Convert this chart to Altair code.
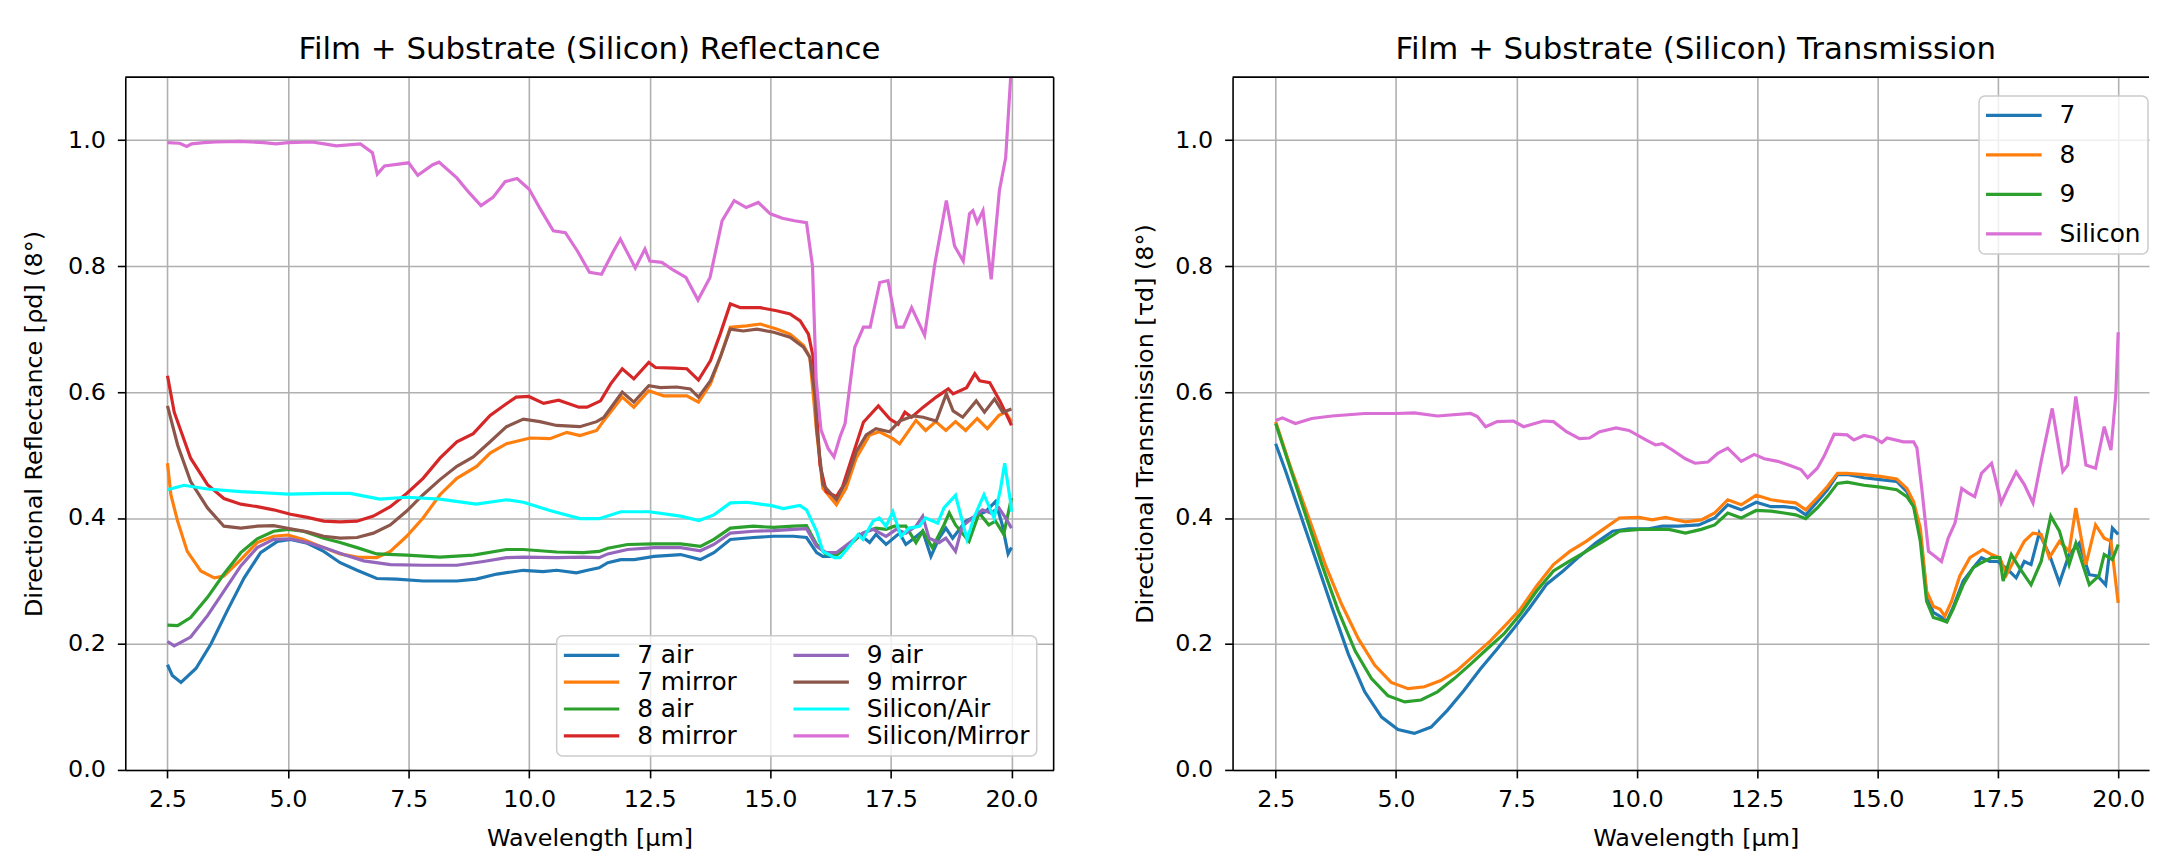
import altair as alt
import pandas as pd

FONT = "DejaVu Sans"

x_ticks = [2.5, 5.0, 7.5, 10.0, 12.5, 15.0, 17.5, 20.0]
y_ticks = [0.0, 0.2, 0.4, 0.6, 0.8, 1.0]

# ---------------- Reflectance series (wavelength um, reflectance) ----------------
r_7_air = [(2.5,0.167),(2.6,0.150),(2.78,0.139),(3.09,0.161),(3.4,0.2),(3.74,0.253),(4.09,0.305),(4.43,0.345),(4.78,0.363),(5.05,0.366),(5.4,0.36),(5.74,0.347),(6.08,0.329),(6.43,0.317),(6.84,0.304),(7.25,0.303),(7.8,0.30),(8.5,0.30),(8.9,0.303),(9.33,0.311),(9.88,0.317),(10.29,0.315),(10.57,0.317),(10.98,0.313),(11.21,0.317),(11.45,0.321),(11.63,0.329),(11.9,0.334),(12.18,0.334),(12.59,0.339),(13.14,0.342),(13.55,0.334),(13.83,0.345),(14.17,0.366),(14.65,0.369),(15.07,0.371),(15.48,0.371),(15.75,0.369),(15.96,0.345),(16.09,0.339),(16.33,0.339),(16.57,0.353),(16.85,0.374),(17.06,0.361),(17.19,0.374),(17.4,0.358),(17.68,0.376),(17.81,0.358),(17.98,0.368),(18.16,0.379),(18.33,0.339),(18.5,0.368),(18.64,0.384),(18.78,0.368),(19.05,0.395),(19.26,0.403),(19.46,0.41),(19.67,0.426),(19.81,0.389),(19.93,0.343),(20.0,0.353)]
r_7_mirror = [(2.5,0.487),(2.57,0.437),(2.71,0.395),(2.91,0.347),(3.19,0.316),(3.47,0.305),(3.67,0.308),(4.02,0.334),(4.36,0.361),(4.7,0.371),(5.0,0.373),(5.32,0.366),(5.74,0.353),(6.08,0.343),(6.43,0.338),(6.84,0.337),(7.12,0.347),(7.46,0.371),(7.8,0.40),(8.15,0.437),(8.5,0.463),(8.91,0.482),(9.19,0.503),(9.53,0.518),(10.02,0.527),(10.43,0.526),(10.78,0.536),(11.05,0.531),(11.4,0.539),(11.55,0.555),(11.93,0.592),(12.17,0.576),(12.48,0.602),(12.79,0.594),(13.27,0.594),(13.51,0.584),(13.76,0.613),(13.96,0.655),(14.17,0.703),(14.51,0.705),(14.79,0.708),(15.13,0.70),(15.41,0.692),(15.69,0.674),(15.82,0.655),(15.96,0.537),(16.09,0.447),(16.37,0.421),(16.57,0.447),(16.78,0.495),(17.06,0.532),(17.26,0.537),(17.54,0.526),(17.68,0.518),(17.81,0.532),(18.02,0.555),(18.22,0.539),(18.43,0.553),(18.64,0.539),(18.84,0.553),(19.05,0.539),(19.29,0.558),(19.5,0.542),(19.74,0.563),(19.88,0.568),(20.0,0.553)]
r_8_air = [(2.5,0.23),(2.71,0.229),(2.98,0.242),(3.33,0.274),(3.67,0.311),(4.02,0.345),(4.36,0.367),(4.7,0.379),(5.0,0.382),(5.32,0.379),(5.74,0.368),(6.08,0.361),(6.43,0.353),(6.84,0.343),(7.46,0.341),(8.15,0.338),(8.84,0.341),(9.53,0.35),(9.88,0.35),(10.57,0.346),(11.12,0.345),(11.45,0.347),(11.63,0.352),(12.04,0.358),(12.59,0.359),(13.14,0.359),(13.55,0.355),(13.83,0.366),(14.17,0.384),(14.65,0.387),(15.07,0.385),(15.48,0.387),(15.75,0.388),(15.96,0.358),(16.16,0.342),(16.37,0.341),(16.65,0.358),(16.92,0.376),(17.19,0.384),(17.4,0.382),(17.57,0.387),(17.81,0.387),(18.02,0.361),(18.16,0.379),(18.36,0.353),(18.6,0.389),(18.71,0.408),(18.84,0.389),(19.12,0.363),(19.33,0.408),(19.53,0.389),(19.67,0.395),(19.84,0.374),(20.0,0.432)]
r_8_mirror = [(2.5,0.626),(2.64,0.568),(2.98,0.495),(3.33,0.453),(3.67,0.431),(4.02,0.422),(4.36,0.418),(4.7,0.413),(5.05,0.406),(5.4,0.401),(5.74,0.395),(6.08,0.394),(6.43,0.395),(6.77,0.403),(7.12,0.418),(7.46,0.439),(7.8,0.463),(8.15,0.495),(8.5,0.521),(8.84,0.534),(9.19,0.563),(9.52,0.581),(9.73,0.592),(9.99,0.593),(10.3,0.582),(10.61,0.587),(11.03,0.576),(11.2,0.576),(11.48,0.586),(11.69,0.613),(11.93,0.637),(12.17,0.621),(12.48,0.647),(12.62,0.639),(13.0,0.638),(13.27,0.637),(13.51,0.619),(13.76,0.65),(13.96,0.692),(14.17,0.74),(14.38,0.734),(14.79,0.734),(15.13,0.729),(15.41,0.724),(15.62,0.713),(15.79,0.692),(15.89,0.655),(15.96,0.568),(16.03,0.484),(16.16,0.442),(16.37,0.434),(16.5,0.45),(16.71,0.50),(16.93,0.552),(17.24,0.578),(17.48,0.557),(17.65,0.549),(17.79,0.568),(17.93,0.56),(18.17,0.576),(18.44,0.592),(18.69,0.605),(18.79,0.597),(19.07,0.607),(19.24,0.629),(19.34,0.618),(19.55,0.615),(19.76,0.586),(19.96,0.554),(20.0,0.547)]
r_9_air = [(2.5,0.204),(2.64,0.197),(2.98,0.211),(3.33,0.245),(3.67,0.284),(4.02,0.324),(4.36,0.353),(4.7,0.366),(5.05,0.367),(5.4,0.361),(5.74,0.353),(6.15,0.342),(6.57,0.332),(7.12,0.326),(7.8,0.325),(8.5,0.325),(9.05,0.331),(9.53,0.337),(9.88,0.338),(10.57,0.337),(11.12,0.338),(11.45,0.337),(11.63,0.343),(12.04,0.35),(12.59,0.353),(13.14,0.353),(13.55,0.348),(13.83,0.358),(14.17,0.376),(14.65,0.379),(15.07,0.38),(15.48,0.382),(15.75,0.383),(15.96,0.355),(16.16,0.345),(16.37,0.345),(16.65,0.361),(16.92,0.376),(17.13,0.382),(17.4,0.371),(17.61,0.382),(17.81,0.376),(18.02,0.387),(18.16,0.403),(18.29,0.368),(18.5,0.361),(18.64,0.368),(18.84,0.347),(18.98,0.387),(19.19,0.40),(19.4,0.413),(19.57,0.408),(19.74,0.416),(19.88,0.40),(20.0,0.384)]
r_9_mirror = [(2.5,0.578),(2.71,0.516),(2.98,0.458),(3.33,0.416),(3.67,0.387),(4.02,0.384),(4.36,0.387),(4.7,0.388),(5.05,0.383),(5.4,0.378),(5.74,0.371),(6.08,0.368),(6.43,0.369),(6.77,0.376),(7.12,0.389),(7.46,0.411),(7.8,0.437),(8.15,0.461),(8.5,0.482),(8.84,0.497),(9.19,0.521),(9.53,0.545),(9.88,0.557),(10.22,0.553),(10.57,0.547),(11.05,0.545),(11.4,0.553),(11.55,0.56),(11.93,0.60),(12.17,0.584),(12.48,0.61),(12.72,0.607),(13.06,0.608),(13.34,0.605),(13.51,0.592),(13.76,0.618),(13.96,0.655),(14.17,0.70),(14.44,0.697),(14.72,0.70),(15.07,0.695),(15.41,0.687),(15.69,0.671),(15.82,0.655),(15.93,0.592),(15.96,0.542),(16.09,0.453),(16.37,0.429),(16.57,0.458),(16.78,0.505),(16.99,0.532),(17.19,0.542),(17.47,0.537),(17.68,0.554),(17.96,0.562),(18.17,0.56),(18.44,0.554),(18.65,0.597),(18.79,0.57),(18.99,0.56),(19.27,0.586),(19.44,0.568),(19.65,0.589),(19.82,0.568),(20.0,0.573)]
r_si_air = [(2.5,0.445),(2.84,0.452),(3.33,0.446),(4.02,0.442),(5.0,0.438),(5.74,0.439),(6.29,0.439),(6.9,0.43),(7.46,0.433),(8.15,0.43),(8.9,0.422),(9.53,0.429),(9.88,0.425),(10.43,0.412),(11.05,0.399),(11.45,0.399),(11.9,0.41),(12.49,0.41),(13.14,0.403),(13.52,0.396),(13.83,0.405),(14.17,0.424),(14.51,0.425),(15.0,0.42),(15.27,0.415),(15.61,0.42),(15.75,0.413),(15.96,0.379),(16.09,0.347),(16.33,0.337),(16.44,0.337),(16.64,0.355),(16.82,0.374),(16.92,0.366),(17.13,0.395),(17.26,0.40),(17.4,0.387),(17.54,0.41),(17.71,0.371),(17.88,0.384),(18.09,0.387),(18.22,0.40),(18.47,0.392),(18.6,0.416),(18.84,0.436),(19.08,0.366),(19.22,0.40),(19.43,0.437),(19.64,0.40),(19.77,0.445),(19.86,0.487),(19.98,0.426),(20.0,0.41)]
r_si_mirror = [(2.5,0.996),(2.75,0.995),(2.9,0.99),(3.0,0.994),(3.25,0.996),(3.5,0.997),(4.0,0.998),(4.5,0.996),(4.75,0.994),(5.0,0.996),(5.5,0.997),(5.75,0.994),(6.0,0.991),(6.5,0.994),(6.75,0.98),(6.85,0.946),(7.0,0.959),(7.5,0.964),(7.69,0.944),(8.0,0.961),(8.13,0.965),(8.5,0.94),(8.75,0.917),(9.0,0.896),(9.25,0.909),(9.5,0.934),(9.75,0.939),(10.0,0.922),(10.25,0.888),(10.5,0.856),(10.75,0.853),(11.0,0.824),(11.25,0.79),(11.5,0.787),(11.75,0.824),(11.89,0.843),(12.2,0.797),(12.4,0.827),(12.5,0.808),(12.75,0.806),(13.0,0.793),(13.25,0.782),(13.5,0.746),(13.75,0.782),(14.0,0.872),(14.25,0.904),(14.5,0.893),(14.75,0.901),(15.0,0.883),(15.25,0.876),(15.5,0.872),(15.75,0.869),(15.875,0.80),(15.95,0.62),(16.05,0.54),(16.2,0.51),(16.32,0.497),(16.45,0.53),(16.55,0.55),(16.75,0.671),(16.93,0.703),(17.07,0.703),(17.27,0.774),(17.44,0.777),(17.62,0.703),(17.76,0.703),(17.93,0.734),(18.2,0.69),(18.41,0.803),(18.65,0.904),(18.82,0.832),(19.0,0.808),(19.13,0.883),(19.2,0.888),(19.29,0.869),(19.41,0.888),(19.58,0.779),(19.75,0.92),(19.88,0.972),(20.0,1.12)]

# ---------------- Transmission series ----------------
t_7 = [(2.5,0.518),(2.71,0.474),(2.98,0.413),(3.32,0.337),(3.67,0.258),(4.01,0.184),(4.35,0.124),(4.7,0.084),(5.04,0.064),(5.38,0.058),(5.73,0.068),(6.07,0.095),(6.41,0.126),(6.76,0.161),(7.1,0.192),(7.44,0.224),(7.78,0.258),(8.13,0.295),(8.47,0.316),(8.81,0.339),(9.16,0.361),(9.5,0.379),(9.84,0.383),(10.25,0.383),(10.53,0.387),(10.87,0.387),(11.29,0.389),(11.62,0.40),(11.89,0.421),(12.17,0.413),(12.48,0.425),(12.79,0.418),(13.06,0.418),(13.3,0.416),(13.51,0.405),(13.75,0.426),(13.96,0.445),(14.17,0.469),(14.37,0.469),(14.72,0.464),(15.06,0.461),(15.4,0.458),(15.61,0.442),(15.75,0.421),(15.89,0.374),(16.02,0.279),(16.16,0.25),(16.3,0.244),(16.44,0.236),(16.57,0.258),(16.78,0.30),(16.99,0.321),(17.16,0.337),(17.33,0.331),(17.5,0.331),(17.71,0.318),(17.88,0.305),(18.05,0.331),(18.19,0.326),(18.36,0.376),(18.57,0.342),(18.78,0.297),(18.98,0.342),(19.19,0.36),(19.4,0.31),(19.57,0.308),(19.74,0.294),(19.88,0.384),(20.0,0.374)]
t_8 = [(2.5,0.553),(2.84,0.474),(3.19,0.40),(3.53,0.326),(3.87,0.263),(4.22,0.208),(4.56,0.166),(4.9,0.139),(5.25,0.129),(5.59,0.132),(5.93,0.142),(6.27,0.158),(6.62,0.182),(6.96,0.205),(7.3,0.232),(7.58,0.255),(7.92,0.292),(8.27,0.326),(8.61,0.347),(8.95,0.363),(9.3,0.382),(9.64,0.40),(10.05,0.401),(10.32,0.397),(10.6,0.401),(11.01,0.394),(11.34,0.397),(11.62,0.408),(11.89,0.429),(12.17,0.421),(12.48,0.436),(12.79,0.429),(13.06,0.426),(13.3,0.424),(13.51,0.413),(13.75,0.432),(13.96,0.45),(14.17,0.471),(14.37,0.471),(14.72,0.469),(15.06,0.466),(15.4,0.462),(15.61,0.447),(15.75,0.426),(15.89,0.384),(16.02,0.284),(16.16,0.26),(16.3,0.255),(16.4,0.244),(16.54,0.268),(16.71,0.308),(16.92,0.337),(17.19,0.35),(17.37,0.342),(17.54,0.337),(17.68,0.31),(17.88,0.339),(18.05,0.363),(18.23,0.376),(18.4,0.374),(18.57,0.337),(18.78,0.363),(18.98,0.347),(19.12,0.416),(19.33,0.326),(19.53,0.389),(19.71,0.368),(19.85,0.363),(20.0,0.265)]
t_9 = [(2.5,0.55),(2.77,0.487),(3.12,0.405),(3.46,0.326),(3.8,0.253),(4.15,0.189),(4.49,0.145),(4.83,0.118),(5.18,0.108),(5.52,0.111),(5.86,0.124),(6.21,0.145),(6.55,0.168),(6.89,0.192),(7.24,0.216),(7.58,0.247),(7.92,0.284),(8.27,0.316),(8.61,0.332),(8.95,0.347),(9.3,0.363),(9.64,0.379),(10.05,0.382),(10.39,0.382),(10.67,0.382),(11.01,0.376),(11.34,0.382),(11.62,0.389),(11.89,0.408),(12.17,0.40),(12.48,0.412),(12.79,0.411),(13.06,0.408),(13.3,0.405),(13.51,0.399),(13.75,0.416),(13.96,0.434),(14.17,0.455),(14.37,0.457),(14.72,0.452),(15.06,0.449),(15.4,0.445),(15.61,0.434),(15.75,0.418),(15.89,0.363),(16.02,0.268),(16.16,0.242),(16.3,0.239),(16.44,0.235),(16.57,0.255),(16.78,0.294),(16.99,0.321),(17.16,0.329),(17.37,0.337),(17.54,0.337),(17.61,0.30),(17.78,0.342),(17.95,0.321),(18.19,0.294),(18.4,0.331),(18.6,0.403),(18.78,0.379),(18.98,0.326),(19.12,0.36),(19.4,0.294),(19.6,0.308),(19.71,0.342),(19.88,0.334),(20.0,0.358)]
t_si = [(2.5,0.555),(2.64,0.559),(2.91,0.55),(3.25,0.558),(3.67,0.562),(4.35,0.566),(5.0,0.566),(5.38,0.567),(5.86,0.562),(6.55,0.566),(6.69,0.561),(6.86,0.545),(7.1,0.553),(7.44,0.554),(7.65,0.545),(8.06,0.554),(8.27,0.553),(8.54,0.537),(8.81,0.526),(9.02,0.527),(9.23,0.537),(9.57,0.543),(9.84,0.539),(10.19,0.524),(10.39,0.516),(10.53,0.518),(10.74,0.508),(11.01,0.494),(11.21,0.487),(11.48,0.489),(11.69,0.503),(11.89,0.511),(12.17,0.49),(12.44,0.501),(12.65,0.494),(12.93,0.49),(13.2,0.483),(13.41,0.477),(13.55,0.464),(13.75,0.479),(13.89,0.498),(14.1,0.533),(14.37,0.532),(14.51,0.524),(14.72,0.531),(14.92,0.528),(15.09,0.52),(15.2,0.527),(15.54,0.521),(15.75,0.521),(15.82,0.511),(15.92,0.447),(16.06,0.347),(16.2,0.339),(16.33,0.331),(16.47,0.368),(16.61,0.392),(16.75,0.447),(16.88,0.44),(17.02,0.434),(17.16,0.471),(17.37,0.487),(17.43,0.469),(17.57,0.424),(17.71,0.447),(17.88,0.473),(18.05,0.453),(18.23,0.424),(18.4,0.49),(18.63,0.574),(18.85,0.474),(18.95,0.484),(19.12,0.593),(19.33,0.484),(19.53,0.479),(19.71,0.545),(19.85,0.508),(19.95,0.595),(20.0,0.695)]

refl_series = {
    "7 air": r_7_air, "7 mirror": r_7_mirror, "8 air": r_8_air, "8 mirror": r_8_mirror,
    "9 air": r_9_air, "9 mirror": r_9_mirror, "Silicon/Air": r_si_air, "Silicon/Mirror": r_si_mirror,
}
trans_series = {"7": t_7, "8": t_8, "9": t_9, "Silicon": t_si}

refl_order = ["7 air", "7 mirror", "8 air", "8 mirror", "9 air", "9 mirror", "Silicon/Air", "Silicon/Mirror"]
refl_colors = ["#1f77b4", "#ff7f0e", "#2ca02c", "#d62728", "#9467bd", "#8c564b", "#00ffff", "#da70d6"]
trans_order = ["7", "8", "9", "Silicon"]
trans_colors = ["#1f77b4", "#ff7f0e", "#2ca02c", "#da70d6"]


def to_df(series):
    rows = []
    for name, pts in series.items():
        for xv, yv in pts:
            rows.append({"series": name, "wl": xv, "val": yv})
    return pd.DataFrame(rows)


df_left = to_df(refl_series)
df_right = to_df(trans_series)
spine_df = pd.DataFrame({"k": [0]})

LW = 3.2
SPW = 1.6
W_L, W_R, H = 934, 922, 697

legend_common = dict(
    title=None, orient="none", symbolType="stroke", symbolSize=3136,
    symbolStrokeWidth=LW, symbolOffset=-2, labelOffset=16, clipHeight=25,
    labelFontSize=25, labelFont=FONT, labelColor="black", labelLimit=400,
    padding=7, fillColor="rgba(255,255,255,0.8)", strokeColor="#cccccc",
    cornerRadius=6, direction="vertical",
)

left_lines = alt.Chart(df_left).mark_line(strokeWidth=LW, clip=True).encode(
    x=alt.X("wl:Q", scale=alt.Scale(domain=[1.625, 20.875], nice=False, zero=False),
            axis=alt.Axis(values=x_ticks, format=".1f", title="Wavelength [μm]")),
    y=alt.Y("val:Q", scale=alt.Scale(domain=[0, 1.1], nice=False, zero=False),
            axis=alt.Axis(values=y_ticks, format=".1f",
                          title="Directional Reflectance [ρd] (8°)", titleX=-79)),
    color=alt.Color("series:N", sort=None,
                    scale=alt.Scale(domain=refl_order, range=refl_colors),
                    legend=alt.Legend(legendX=434, legendY=562, columns=2,
                                      columnPadding=56, rowPadding=1.1, **legend_common)),
)
left_top = alt.Chart(spine_df).mark_rule(color="black", strokeWidth=SPW).encode(
    x=alt.value(0), x2=alt.value(W_L), y=alt.value(0))
left_right = alt.Chart(spine_df).mark_rule(color="black", strokeWidth=SPW).encode(
    x=alt.value(W_L), y=alt.value(0), y2=alt.value(H))

left = alt.layer(left_lines, left_top, left_right).properties(
    width=W_L, height=H,
    title=alt.TitleParams("Film + Substrate (Silicon) Reflectance", fontSize=31, font=FONT,
                          fontWeight="normal", color="black", offset=10),
)

right_lines = alt.Chart(df_right).mark_line(strokeWidth=LW, clip=True).encode(
    x=alt.X("wl:Q", scale=alt.Scale(domain=[1.605, 20.64], nice=False, zero=False),
            axis=alt.Axis(values=x_ticks, format=".1f", title="Wavelength [μm]", titleX=466)),
    y=alt.Y("val:Q", scale=alt.Scale(domain=[0, 1.1], nice=False, zero=False),
            axis=alt.Axis(values=y_ticks, format=".1f",
                          title="Directional Transmission [τd] (8°)", titleX=-76)),
    color=alt.Color("series:N", sort=None,
                    scale=alt.Scale(domain=trans_order, range=trans_colors),
                    legend=alt.Legend(legendX=751, legendY=19, rowPadding=13.7, **legend_common)),
)
right_top = alt.Chart(spine_df).mark_rule(color="black", strokeWidth=SPW).encode(
    x=alt.value(0), x2=alt.value(W_R), y=alt.value(0))

right = alt.layer(right_lines, right_top).properties(
    width=W_R, height=H,
    title=alt.TitleParams("Film + Substrate (Silicon) Transmission", fontSize=31, font=FONT,
                          fontWeight="normal", color="black", offset=10, dx=5),
)

chart = alt.hconcat(left, right, spacing=79).resolve_scale(color="independent").properties(
    padding={"left": 15, "top": 24, "right": 0, "bottom": 0},
    background="white",
).configure_view(stroke=None).configure_axis(
    labelFont=FONT, labelFontSize=24, labelColor="black",
    titleFont=FONT, titleFontSize=24, titleFontWeight="normal", titleColor="black",
    tickColor="black", tickWidth=SPW, tickSize=8,
    domainColor="black", domainWidth=SPW,
    gridColor="#b0b0b0", gridWidth=1.6, gridOpacity=1,
).configure_axisX(labelPadding=10, titlePadding=15).configure_axisY(labelPadding=12).configure_legend(
    strokeWidth=1.5
)

chart.save("out.html", embed_options={"renderer": "svg", "actions": False})
